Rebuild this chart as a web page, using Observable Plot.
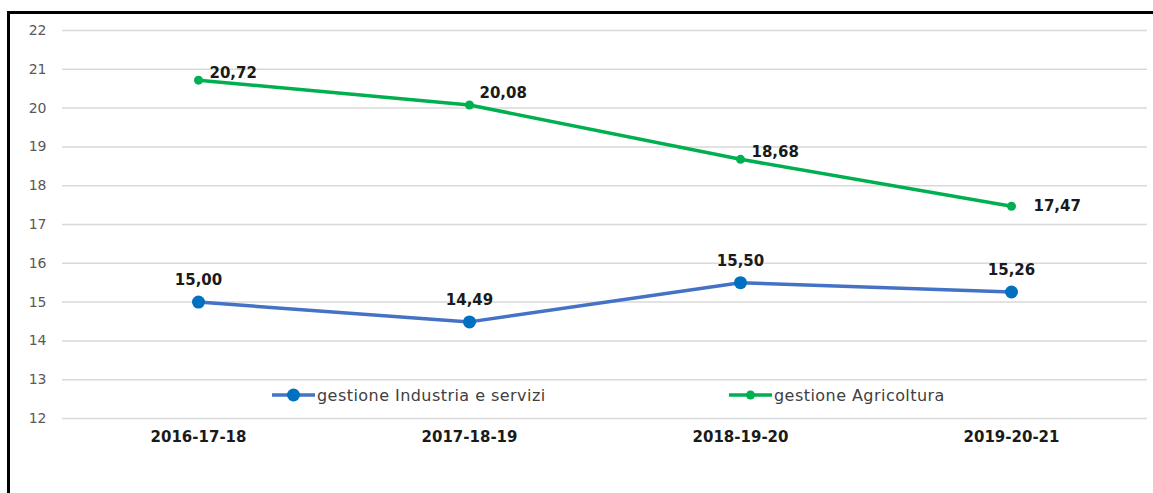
<!DOCTYPE html>
<html>
<head>
<meta charset="utf-8">
<script src="https://cdn.jsdelivr.net/npm/d3@7"></script>
<script src="https://cdn.jsdelivr.net/npm/@observablehq/plot@0.6"></script>
<style>
  html, body { margin: 0; padding: 0; background: #fff; }
  #wrap { position: relative; width: 1153px; height: 493px; overflow: hidden; background: #fff; }
  #frame { position: absolute; left: 7px; top: 11px; width: 1160px; height: 500px;
           border-top: 3px solid #000; border-left: 3px solid #000; box-sizing: border-box; }
  #chart { position: absolute; left: 0; top: 0; }
  #legend { position: absolute; top: 385px; left: 0; width: 1153px; height: 20px;
            font-family: "DejaVu Sans", sans-serif; font-size: 16px; letter-spacing: 0.45px; color: #404040; }
  .item { position: absolute; top: 0; display: flex; align-items: center; height: 20px; white-space: nowrap; }
  .item svg { margin-right: 2px; }
</style>
</head>
<body>
<div id="wrap">
  <div id="chart"></div>
  <div id="frame"></div>
  <div id="legend"></div>
</div>
<script>
const periods = ["2016-17-18", "2017-18-19", "2018-19-20", "2019-20-21"];
const industria = [15.00, 14.49, 15.50, 15.26];
const agricoltura = [20.72, 20.08, 18.68, 17.47];
const seriesNames = ["gestione Industria e servizi", "gestione Agricoltura"];
const yTicks = [12, 13, 14, 15, 16, 17, 18, 19, 20, 21, 22];

const fmt = v => v.toFixed(2).replace(".", ",");
const blue = periods.map((p, i) => ({period: p, value: industria[i], i}));
const green = periods.map((p, i) => ({period: p, value: agricoltura[i], i}));

const labelStyle = {fontSize: 15, fontWeight: "bold", fontFamily: "DejaVu Sans", fill: "#1a1a1a"};

const plot = Plot.plot({
  width: 1153,
  height: 493,
  marginLeft: 62,
  marginRight: 6,
  marginTop: 30,
  marginBottom: 75,
  style: {background: "transparent", overflow: "visible"},
  x: {type: "point", domain: periods, padding: 0.5, label: null},
  y: {domain: [12, 22], ticks: yTicks, label: null},
  marks: [
    Plot.gridY(yTicks, {stroke: "#d9d9d9", strokeOpacity: 1, strokeWidth: 1.5}),
    Plot.axisY(yTicks, {tickSize: 0, tickPadding: 16, fontSize: 14, fill: "#595959",
      fontFamily: "DejaVu Sans", tickFormat: d => String(d), label: null}),
    Plot.axisX({tickSize: 0, tickPadding: 13, fontSize: 15, fontWeight: "bold", fill: "#1a1a1a",
      fontFamily: "DejaVu Sans", label: null}),
    Plot.line(blue, {x: "period", y: "value", stroke: "#4472C4", strokeWidth: 3.5}),
    Plot.line(green, {x: "period", y: "value", stroke: "#00B050", strokeWidth: 3.5}),
    Plot.dot(blue, {x: "period", y: "value", r: 6.5, fill: "#0070C0", stroke: "none"}),
    Plot.dot(green, {x: "period", y: "value", r: 4.5, fill: "#00B050", stroke: "none"}),
    Plot.text(blue, {x: "period", y: "value", text: d => fmt(d.value), dy: -22, ...labelStyle}),
    Plot.text(green.filter(d => d.i === 0 || d.i === 2), {x: "period", y: "value", text: d => fmt(d.value),
      dx: 11, dy: -7, textAnchor: "start", ...labelStyle}),
    Plot.text(green.filter(d => d.i === 1), {x: "period", y: "value", text: d => fmt(d.value),
      dx: 10, dy: -12, textAnchor: "start", ...labelStyle}),
    Plot.text(green.filter(d => d.i === 3), {x: "period", y: "value", text: d => fmt(d.value),
      dx: 22, dy: 0, textAnchor: "start", ...labelStyle})
  ]
});
document.getElementById("chart").appendChild(plot);

const legend = document.getElementById("legend");
const swatches = [
  {name: seriesNames[0], line: "#4472C4", dot: "#0070C0", r: 6.5, left: 272},
  {name: seriesNames[1], line: "#00B050", dot: "#00B050", r: 4.5, left: 729}
];
swatches.forEach(s => {
  const div = document.createElement("div");
  div.className = "item";
  div.style.left = s.left + "px";
  div.innerHTML = `<svg width="43" height="20"><line x1="0" x2="43" y1="10" y2="10" stroke="${s.line}" stroke-width="3.5"/><circle cx="21.5" cy="10" r="${s.r}" fill="${s.dot}"/></svg><span>${s.name}</span>`;
  legend.appendChild(div);
});
</script>
</body>
</html>
